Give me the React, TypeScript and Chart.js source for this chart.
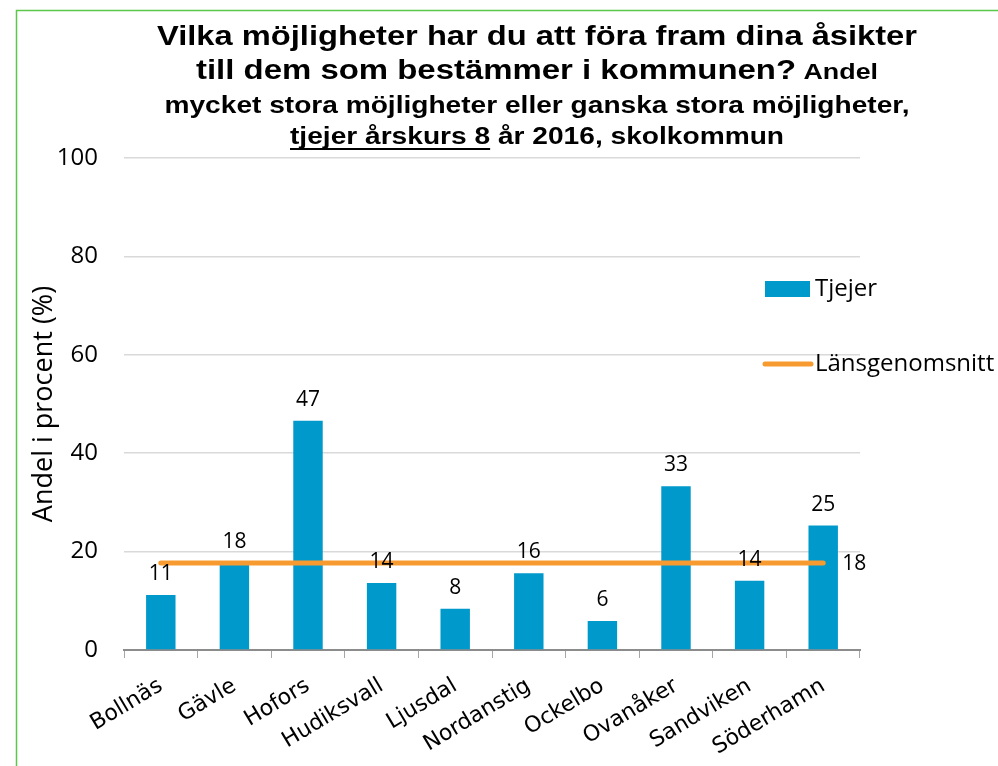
import React, { useEffect, useRef } from "react";
import { Chart, registerables } from "chart.js";

Chart.register(...registerables);

const categories = ["Bollnäs", "Gävle", "Hofors", "Hudiksvall", "Ljusdal", "Nordanstig", "Ockelbo", "Ovanåker", "Sandviken", "Söderhamn"];
const tjejer = [11.2, 17.6, 46.6, 13.6, 8.4, 15.6, 5.9, 33.3, 14.1, 25.3];
const lansgenomsnitt = [17.7, 17.7, 17.7, 17.7, 17.7, 17.7, 17.7, 17.7, 17.7, 17.7];
const yTicks = [0, 20, 40, 60, 80, 100];
const seriesNames = ["Tjejer", "Länsgenomsnitt"];
const yTitle = "Andel i procent (%)";
const titleLine1 = "Vilka möjligheter har du att föra fram dina åsikter";
const titleLine2a = "till dem som bestämmer i kommunen?";
const titleLine2b = " Andel";
const titleLine3 = "mycket stora möjligheter eller ganska stora möjligheter,";
const titleLine4a = "tjejer årskurs 8";
const titleLine4b = " år 2016, skolkommun";

const BAR = "#0099CC";
const ORANGE = "#F79B30";
const SANS = "'Open Sans', sans-serif";
const TITLE = "'Liberation Sans', Arial, sans-serif";

type Seg = { text: string; font: string; underline?: boolean };

function drawSegs(ctx: CanvasRenderingContext2D, segs: Seg[], cx: number, y: number, target: number) {
  let total = 0;
  const ws = segs.map((s) => {
    ctx.font = s.font;
    const w = ctx.measureText(s.text).width;
    total += w;
    return w;
  });
  const sx = target / total;
  ctx.save();
  ctx.translate(cx - target / 2, y);
  ctx.scale(sx, 1);
  let x = 0;
  segs.forEach((s, i) => {
    ctx.font = s.font;
    ctx.textAlign = "left";
    ctx.textBaseline = "alphabetic";
    ctx.fillStyle = "#000";
    ctx.fillText(s.text, x, 0);
    if (s.underline) {
      ctx.fillRect(x, 4, ws[i], 2);
    }
    x += ws[i];
  });
  ctx.restore();
}

const customPlugin = {
  id: "customDecor",
  afterDatasetsDraw(chart: any) {
    const ctx = chart.ctx as CanvasRenderingContext2D;
    ctx.save();
    const barMeta = chart.getDatasetMeta(1);
    ctx.font = `21px ${SANS}`;
    ctx.fillStyle = "#000";
    ctx.textAlign = "center";
    ctx.textBaseline = "alphabetic";
    barMeta.data.forEach((el: any, i: number) => {
      ctx.fillText(String(Math.round(tjejer[i])), el.x, el.y - 15);
    });
    const lineMeta = chart.getDatasetMeta(0);
    const last = lineMeta.data[lineMeta.data.length - 1];
    ctx.textAlign = "left";
    ctx.textBaseline = "middle";
    ctx.fillText(String(Math.round(lansgenomsnitt[lansgenomsnitt.length - 1])), last.x + 19, last.y + 1);
    ctx.restore();
  },
  afterDraw(chart: any) {
    const ctx = chart.ctx as CanvasRenderingContext2D;
    ctx.save();
    // border
    ctx.strokeStyle = "#5CC84A";
    ctx.lineWidth = 1.5;
    ctx.beginPath();
    ctx.moveTo(16.5, 766);
    ctx.lineTo(16.5, 10.5);
    ctx.lineTo(998, 10.5);
    ctx.stroke();
    // title
    const cx = 537;
    drawSegs(ctx, [{ text: titleLine1, font: `bold 27px ${TITLE}` }], cx, 45, 760);
    drawSegs(ctx, [
      { text: titleLine2a, font: `bold 27px ${TITLE}` },
      { text: titleLine2b, font: `bold 22px ${TITLE}` },
    ], cx, 79, 682);
    drawSegs(ctx, [{ text: titleLine3, font: `bold 23px ${TITLE}` }], cx, 113, 745);
    drawSegs(ctx, [
      { text: titleLine4a, font: `bold 23px ${TITLE}`, underline: true },
      { text: titleLine4b, font: `bold 23px ${TITLE}` },
    ], cx, 144, 494);
    // legend
    ctx.fillStyle = BAR;
    ctx.fillRect(765, 281, 45, 16);
    ctx.strokeStyle = ORANGE;
    ctx.lineWidth = 5;
    ctx.lineCap = "round";
    ctx.beginPath();
    ctx.moveTo(765, 364);
    ctx.lineTo(811, 364);
    ctx.stroke();
    ctx.fillStyle = "#000";
    ctx.font = `24px ${SANS}`;
    ctx.textAlign = "left";
    ctx.textBaseline = "middle";
    ctx.fillText(seriesNames[0], 815, 289);
    ctx.fillText(seriesNames[1], 815, 364);
    ctx.restore();
  },
};

export default function App() {
  const ref = useRef<HTMLCanvasElement>(null);
  useEffect(() => {
    if (!ref.current) return;
    const chart = new Chart(ref.current, {
      type: "bar",
      data: {
        labels: categories,
        datasets: [
          {
            type: "line",
            label: seriesNames[1],
            data: lansgenomsnitt,
            borderColor: ORANGE,
            backgroundColor: ORANGE,
            borderWidth: 5,
            borderCapStyle: "round",
            pointRadius: 0,
            pointHoverRadius: 0,
            order: 0,
          } as any,
          {
            type: "bar",
            label: seriesNames[0],
            data: tjejer,
            backgroundColor: BAR,
            borderWidth: 0,
            barPercentage: 0.4,
            categoryPercentage: 1,
            order: 1,
          },
        ],
      },
      options: {
        responsive: false,
        animation: false,
        layout: { padding: { left: 0, top: 158, right: 138, bottom: 0 } },
        plugins: {
          legend: { display: false },
          title: { display: false },
          tooltip: { enabled: false },
        },
        scales: {
          x: {
            afterFit: (s: any) => { s.height = 116; },
            grid: {
              display: true,
              drawOnChartArea: false,
              drawTicks: true,
              tickLength: 8,
              color: "#A6A6A6",
              offset: true,
            },
            border: { display: true, color: "#8C8C8C", width: 2 },
            ticks: {
              color: "#000",
              font: { family: "'DejaVu Sans', sans-serif", size: 22 },
              maxRotation: 31,
              minRotation: 31,
              padding: 15,
              autoSkip: false,
            },
          },
          y: {
            min: 0,
            max: 100,
            afterFit: (s: any) => { s.width = 124; },
            afterBuildTicks: (s: any) => { s.ticks = yTicks.map((v) => ({ value: v })); },
            grid: { color: "#D9D9D9", drawTicks: false, lineWidth: 1.5 },
            border: { display: false },
            ticks: {
              color: "#000",
              font: { family: "'Open Sans', sans-serif", size: 24 },
              padding: 26,
            },
            title: {
              display: true,
              text: yTitle,
              color: "#000",
              font: { family: "'Open Sans', sans-serif", size: 27 },
              padding: { top: 28, bottom: 0 },
            },
          },
        },
      },
      plugins: [customPlugin],
    });
    return () => chart.destroy();
  }, []);
  return (
    <div style={{ position: "fixed", left: 0, top: 0, width: 998, height: 766, background: "#fff" }}>
      <canvas ref={ref} width={998} height={766} style={{ display: "block" }} />
    </div>
  );
}
